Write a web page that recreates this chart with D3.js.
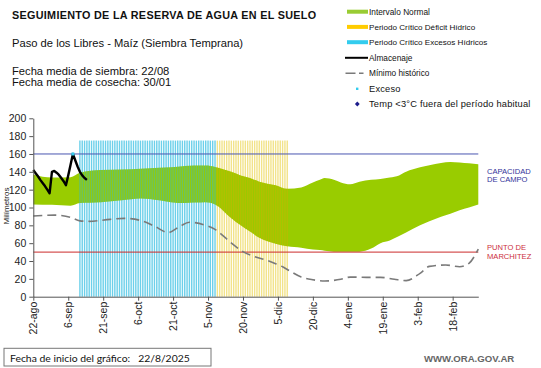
<!DOCTYPE html>
<html><head><meta charset="utf-8">
<script src="https://cdn.jsdelivr.net/npm/d3@7"></script>
<style>body{margin:0;background:#fff} svg{display:block;font-family:"Liberation Sans",Arial,sans-serif}</style>
</head><body><svg id="c" width="541" height="368"></svg>
<script>
// ---------- DATA ----------
const startDate = "2025-08-22", endDate = "2026-03-01";
const tickDates = ["2025-08-22","2025-09-06","2025-09-21","2025-10-06","2025-10-21","2025-11-05","2025-11-20","2025-12-05","2025-12-20","2026-01-04","2026-01-19","2026-02-03","2026-02-18"];
const tickLabels = ["22-ago","6-sep","21-sep","6-oct","21-oct","5-nov","20-nov","5-dic","20-dic","4-ene","19-ene","3-feb","18-feb"];
const yTicks = [0,20,40,60,80,100,120,140,160,180,200];

const bandDates = ["2025-08-22","2025-08-30","2025-09-07","2025-09-11","2025-09-20","2025-09-29","2025-10-07","2025-10-15","2025-10-20","2025-10-26","2025-10-30","2025-11-04","2025-11-08","2025-11-15","2025-11-19","2025-11-23","2025-11-27","2025-12-04","2025-12-09","2025-12-15","2025-12-20","2025-12-23","2025-12-25","2025-12-29","2026-01-01","2026-01-05","2026-01-09","2026-01-14","2026-01-18","2026-01-22","2026-01-26","2026-01-29","2026-02-04","2026-02-08","2026-02-13","2026-02-17","2026-02-21","2026-02-25","2026-03-01"];
const bandUpper = [137,133.5,134,139,142,142.5,143.5,144.5,145,146.5,147,147,145.5,140,136,133,129,125,121,122.5,128,131,133,131,128,126,129,131,132,133.5,136,140,145,147.5,150,151,150.5,149.5,148.5];
const bandLower = [103.5,103,102,105,106,108,110,108,106,105,105.5,106,103.5,88,80,73,66,59.5,56.5,55,53,52.3,51.5,50.5,50.5,50.5,50.5,54,60,63,68,72,80,84.5,89.5,93,97,100,103.5];

const minDates = ["2025-08-22","2025-08-31","2025-09-07","2025-09-11","2025-09-15","2025-09-24","2025-09-30","2025-10-07","2025-10-13","2025-10-19","2025-10-24","2025-10-28","2025-11-04","2025-11-08","2025-11-12","2025-11-16","2025-11-20","2025-11-25","2025-11-30","2025-12-04","2025-12-07","2025-12-10","2025-12-15","2025-12-20","2025-12-25","2026-01-01","2026-01-05","2026-01-12","2026-01-18","2026-01-24","2026-01-29","2026-02-04","2026-02-08","2026-02-15","2026-02-21","2026-02-25","2026-03-01"];
const minValues = [90.5,91.5,89,85,84.5,86.7,87.8,85.5,79,72,79,83.5,80,75.5,67,58,50.5,45,41,37,33.5,29,22,19,17.6,19.5,22,21.7,21.7,19.5,18,26.2,34,35.5,33.6,37.4,53.4];

const storeDates = ["2025-08-22","2025-08-23","2025-08-24","2025-08-25","2025-08-26","2025-08-27","2025-08-28","2025-08-29","2025-08-30","2025-08-31","2025-09-01","2025-09-02","2025-09-03","2025-09-04","2025-09-05","2025-09-06","2025-09-07","2025-09-08","2025-09-09","2025-09-10","2025-09-11","2025-09-12","2025-09-13","2025-09-14"];
const storeValues = [142,138.5,135,131,127.5,124,120,116,140,141,139,136.5,133,129.5,125,136,148,160,153,146,140,136,133,131];

const excessDates = ["2025-09-08"];
const excessValues = [160];

const excessPeriod = ["2025-09-11","2025-11-08"];
const deficitPeriod = ["2025-11-09","2025-12-09"];
const stripeTop = 175;
const fieldCapacity = 160, wiltingPoint = 50;

const legendLabels = ["Intervalo Normal","Periodo Crítico Déficit Hídrico","Periodo Crítico Excesos Hídricos","Almacenaje","Mínimo histórico","Exceso","Temp <3°C fuera del período habitual"];

// ---------- CHART ----------
const parse = d3.utcParse("%Y-%m-%d");
const svg = d3.select("#c");
const x = d3.scaleUtc().domain([parse(startDate), parse(endDate)]).range([33.3, 478.3]);
const y = d3.scaleLinear().domain([0,200]).range([296.7,118.3]);

const C = {green:"#99cc00", cyan:"#6cd0ea", yellow:"#f2e38a", cap:"#4a55b0", red:"#cc2a2a"};

const band = bandDates.map((d,i)=>({d:parse(d), u:bandUpper[i], l:bandLower[i]}));
const bandArea = d3.area().x(d=>x(d.d)).y0(d=>y(d.l)).y1(d=>y(d.u)).curve(d3.curveMonotoneX);

svg.append("clipPath").attr("id","bandClip").append("path").datum(band).attr("d", bandArea);

// stripes
function stripes(parent, period, color, opacity){
  const days = d3.utcDay.range(parse(period[0]), d3.utcDay.offset(parse(period[1]),1));
  parent.append("g").selectAll("line").data(days).join("line")
    .attr("x1", d=>x(d)).attr("x2", d=>x(d))
    .attr("y1", y(0)).attr("y2", y(stripeTop))
    .attr("stroke", color).attr("stroke-width", 1.4).attr("stroke-opacity", opacity);
}
stripes(svg, excessPeriod, C.cyan, 1);
stripes(svg, deficitPeriod, C.yellow, 1);

// band
svg.append("path").datum(band).attr("d", bandArea).attr("fill", C.green);
const inBand = svg.append("g").attr("clip-path","url(#bandClip)");
stripes(inBand, excessPeriod, "#2fb8d8", 0.45);
stripes(inBand, deficitPeriod, "#c8b400", 0.55);

// reference lines
svg.append("line").attr("x1", x.range()[0]).attr("x2", x.range()[1]).attr("y1", y(fieldCapacity)).attr("y2", y(fieldCapacity)).attr("stroke", C.cap).attr("stroke-width",1);
svg.append("line").attr("x1", x.range()[0]).attr("x2", x.range()[1]).attr("y1", y(wiltingPoint)).attr("y2", y(wiltingPoint)).attr("stroke", C.red).attr("stroke-width",1);

// minimum historic
const minData = minDates.map((d,i)=>({d:parse(d), v:minValues[i]}));
svg.append("path").datum(minData)
  .attr("d", d3.line().x(d=>x(d.d)).y(d=>y(d.v)).curve(d3.curveMonotoneX))
  .attr("fill","none").attr("stroke","#7a7a7a").attr("stroke-width",1.6).attr("stroke-dasharray","9,5");

// storage
const store = storeDates.map((d,i)=>({d:parse(d), v:storeValues[i]}));
svg.append("path").datum(store)
  .attr("d", d3.line().x(d=>x(d.d)).y(d=>y(d.v)))
  .attr("fill","none").attr("stroke","#000").attr("stroke-width",2.4).attr("stroke-linejoin","round");

// excess points
svg.append("g").selectAll("rect").data(excessDates.map((d,i)=>({d:parse(d), v:excessValues[i]}))).join("rect")
  .attr("x", d=>x(d.d)-1.5).attr("y", d=>y(d.v)-1.5).attr("width",3).attr("height",3).attr("fill","#33ccee");

// axes
const xAxis = svg.append("g").attr("transform",`translate(0,${y(0)})`)
  .call(d3.axisBottom(x).tickValues(tickDates.map(parse)).tickFormat((d,i)=>tickLabels[i]).tickSize(4).tickSizeOuter(0));
xAxis.selectAll("text").attr("x",-5).attr("y",0).attr("dy","0.35em").attr("transform","rotate(-90)")
  .style("text-anchor","end").style("font-size","10.5px").style("font-family","Liberation Sans, Arial").attr("fill","#222");
xAxis.select(".domain").attr("stroke","#555");
xAxis.selectAll(".tick line").attr("stroke","#555");

const yAxis = svg.append("g").attr("transform",`translate(${x.range()[0]},0)`)
  .call(d3.axisLeft(y).tickValues(yTicks).tickSize(4).tickSizeOuter(0));
yAxis.selectAll("text").style("font-size","10.5px").style("font-family","Liberation Sans, Arial").attr("fill","#222").attr("x",-7);
yAxis.select(".domain").attr("stroke","#555");
yAxis.selectAll(".tick line").attr("stroke","#555");

svg.append("text").attr("transform","translate(9,206) rotate(-90)").attr("text-anchor","middle")
  .style("font-size","8px").attr("fill","#222").text("Milímetros");

// titles
svg.append("text").attr("x",12).attr("y",19).style("font-size","10.8px").style("letter-spacing","0.3px").style("font-weight","bold").attr("fill","#111").text("SEGUIMIENTO DE LA RESERVA DE AGUA EN EL SUELO");
svg.append("text").attr("x",12).attr("y",47).style("font-size","11.2px").attr("fill","#111").text("Paso de los Libres - Maíz (Siembra Temprana)");
svg.append("text").attr("x",12).attr("y",75).style("font-size","11.2px").attr("fill","#111").text("Fecha media de siembra: 22/08");
svg.append("text").attr("x",12).attr("y",85.5).style("font-size","11.2px").attr("fill","#111").text("Fecha media de cosecha: 30/01");

// legend
const lg = svg.append("g");
const rowY = [11.7,26.9,42.2,57.8,73.2,88.8,104];
const rowSize = [8.3,8.1,8.1,8.3,8.3,9.3,9.3];
legendLabels.forEach((t,i)=>{
  lg.append("text").attr("x",369).attr("y",rowY[i]+3).style("font-size",rowSize[i]+"px")
    .style("letter-spacing", i>=5 ? "0.2px" : "0px").attr("fill","#111").text(t);
});
lg.append("rect").attr("x",347).attr("y",rowY[0]-2).attr("width",21).attr("height",4).attr("fill","#99cc33");
lg.append("rect").attr("x",347).attr("y",rowY[1]-2).attr("width",21).attr("height",4).attr("fill","#ffcc00");
lg.append("rect").attr("x",347).attr("y",rowY[2]-2).attr("width",21).attr("height",4).attr("fill","#33ccee");
lg.append("line").attr("x1",345).attr("x2",368).attr("y1",rowY[3]).attr("y2",rowY[3]).attr("stroke","#000").attr("stroke-width",2);
lg.append("line").attr("x1",345.5).attr("x2",364).attr("y1",rowY[4]).attr("y2",rowY[4]).attr("stroke","#7a7a7a").attr("stroke-width",1.5).attr("stroke-dasharray","10,3.5,4.5,10");
lg.append("rect").attr("x",356).attr("y",rowY[5]-1.2).attr("width",2.4).attr("height",2.4).attr("fill","#33ccee");
lg.append("path").attr("d",`M357.3,${rowY[6]-2.4}L359.7,${rowY[6]}L357.3,${rowY[6]+2.4}L354.9,${rowY[6]}Z`).attr("fill","#1c1c8c");

// right labels
const rl = svg.append("g").style("font-size","7.6px");
rl.append("text").attr("x",487).attr("y",173.5).attr("fill","#33339a").text("CAPACIDAD");
rl.append("text").attr("x",487).attr("y",182).attr("fill","#33339a").text("DE CAMPO");
rl.append("text").attr("x",487).attr("y",249.5).attr("fill","#cc3040").text("PUNTO   DE");
rl.append("text").attr("x",487).attr("y",258.5).attr("fill","#cc3040").text("MARCHITEZ");

// footer
svg.append("rect").attr("x",4).attr("y",348.3).attr("width",207).attr("height",17.7).attr("fill","#fff").attr("stroke","#777").attr("stroke-width",1);
svg.append("text").attr("x",10).attr("y",361.5).style("font-family","Lato, 'Open Sans', sans-serif").style("font-size","10.4px").attr("fill","#111").attr("xml:space","preserve").text("Fecha de inicio del gráfico:   22/8/2025");
svg.append("text").attr("x",424).attr("y",362).style("font-size","9.6px").style("font-weight","bold").attr("fill","#666").text("WWW.ORA.GOV.AR");
</script></body></html>
